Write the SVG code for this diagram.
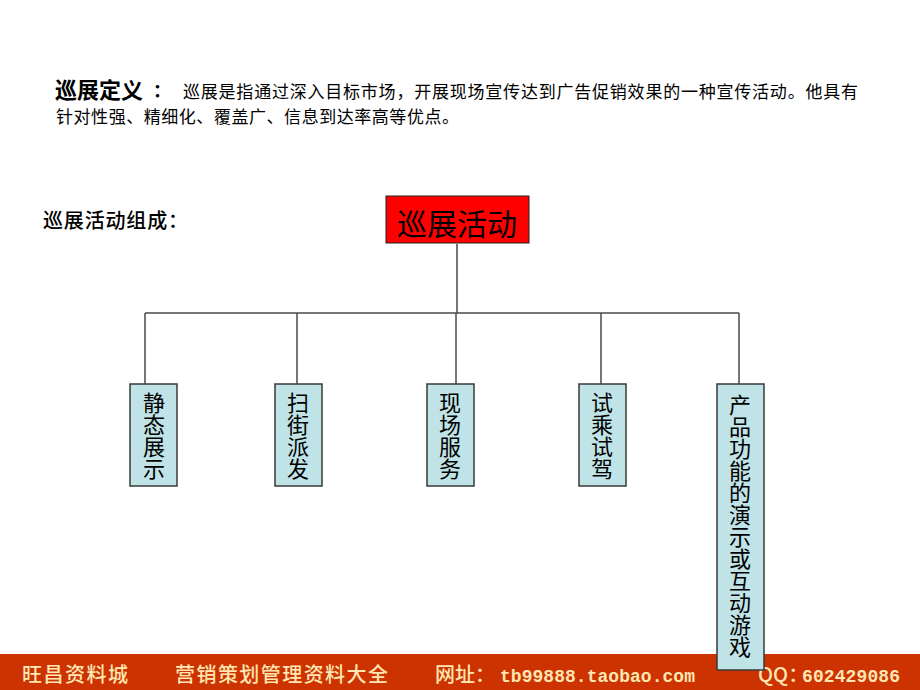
<svg xmlns="http://www.w3.org/2000/svg" width="920" height="690" viewBox="0 0 920 690">
<style>
.cjk{font-family:"Noto Sans CJK SC","Noto Sans",sans-serif;fill:#000}
.body{font-size:17px}
.box{fill:#BFE3E6;stroke:#3a3a3a;stroke-width:1.5}
.vt{font-family:"Noto Sans CJK SC",sans-serif;font-size:22px;fill:#000;writing-mode:vertical-rl;text-orientation:upright}
.conn{stroke:#4a4a4a;stroke-width:1.5;fill:none}
.foot{font-family:"Noto Sans CJK SC",sans-serif;font-size:20px;fill:#FFE6B3;font-weight:500}
.mono{font-family:"Liberation Mono","Noto Sans CJK SC",monospace;font-size:18px;fill:#FFE6B3;font-weight:bold}
</style>
<rect width="920" height="690" fill="#fff"/>
<g id="definition">
<text class="cjk" x="55" y="98" font-size="22" font-weight="bold">巡展定义</text>
<text class="cjk" x="153" y="97" font-size="18" font-weight="bold">：</text>
<text class="cjk body" x="183" y="98" textLength="675">巡展是指通过深入目标市场，开展现场宣传达到广告促销效果的一种宣传活动。他具有</text>
<text class="cjk body" x="56" y="123" textLength="403">针对性强、精细化、覆盖广、信息到达率高等优点。</text>
</g>
<g id="composition-label">
<text class="cjk" x="43" y="228" font-size="20" font-weight="500" textLength="145">巡展活动组成：</text>
</g>
<g id="footer">
<rect x="0" y="654" width="920" height="36" fill="#CC3300"/>
<text class="foot" x="22" y="682" textLength="106">旺昌资料城</text>
<text class="foot" x="175" y="682" textLength="213">营销策划管理资料大全</text>
<text class="foot" x="435" y="682">网址：</text>
<text class="mono" x="500" y="682" textLength="195">tb99888.taobao.com</text>
<text class="foot" x="758" y="682">QQ：</text>
<text class="mono" x="802" y="682" textLength="98">602429086</text>
</g>
<g id="connectors">
<path class="conn" d="M457 244 V313 M145 313 H739 M145 313 V384 M297 313 V384 M456 313 V384 M601 313 V384 M739 313 V384"/>
</g>
<g id="root">
<rect x="386" y="196" width="143" height="47" fill="#FF0000" stroke="#222" stroke-width="1"/>
<text class="cjk" x="457" y="235" font-size="30" text-anchor="middle">巡展活动</text>
</g>
<g id="n1">
<rect class="box" x="130" y="384" width="47" height="102"/>
<text class="vt" x="154" y="392">静态展示</text>
</g>
<g id="n2">
<rect class="box" x="275" y="384" width="47" height="102"/>
<text class="vt" x="298" y="392">扫街派发</text>
</g>
<g id="n3">
<rect class="box" x="427" y="384" width="47" height="102"/>
<text class="vt" x="450" y="392">现场服务</text>
</g>
<g id="n4">
<rect class="box" x="579" y="384" width="47" height="102"/>
<text class="vt" x="602" y="392">试乘试驾</text>
</g>
<g id="n5">
<rect class="box" x="717" y="384" width="47" height="286"/>
<text class="vt" x="740" y="394">产品功能的演示或互动游戏</text>
</g>
</svg>
